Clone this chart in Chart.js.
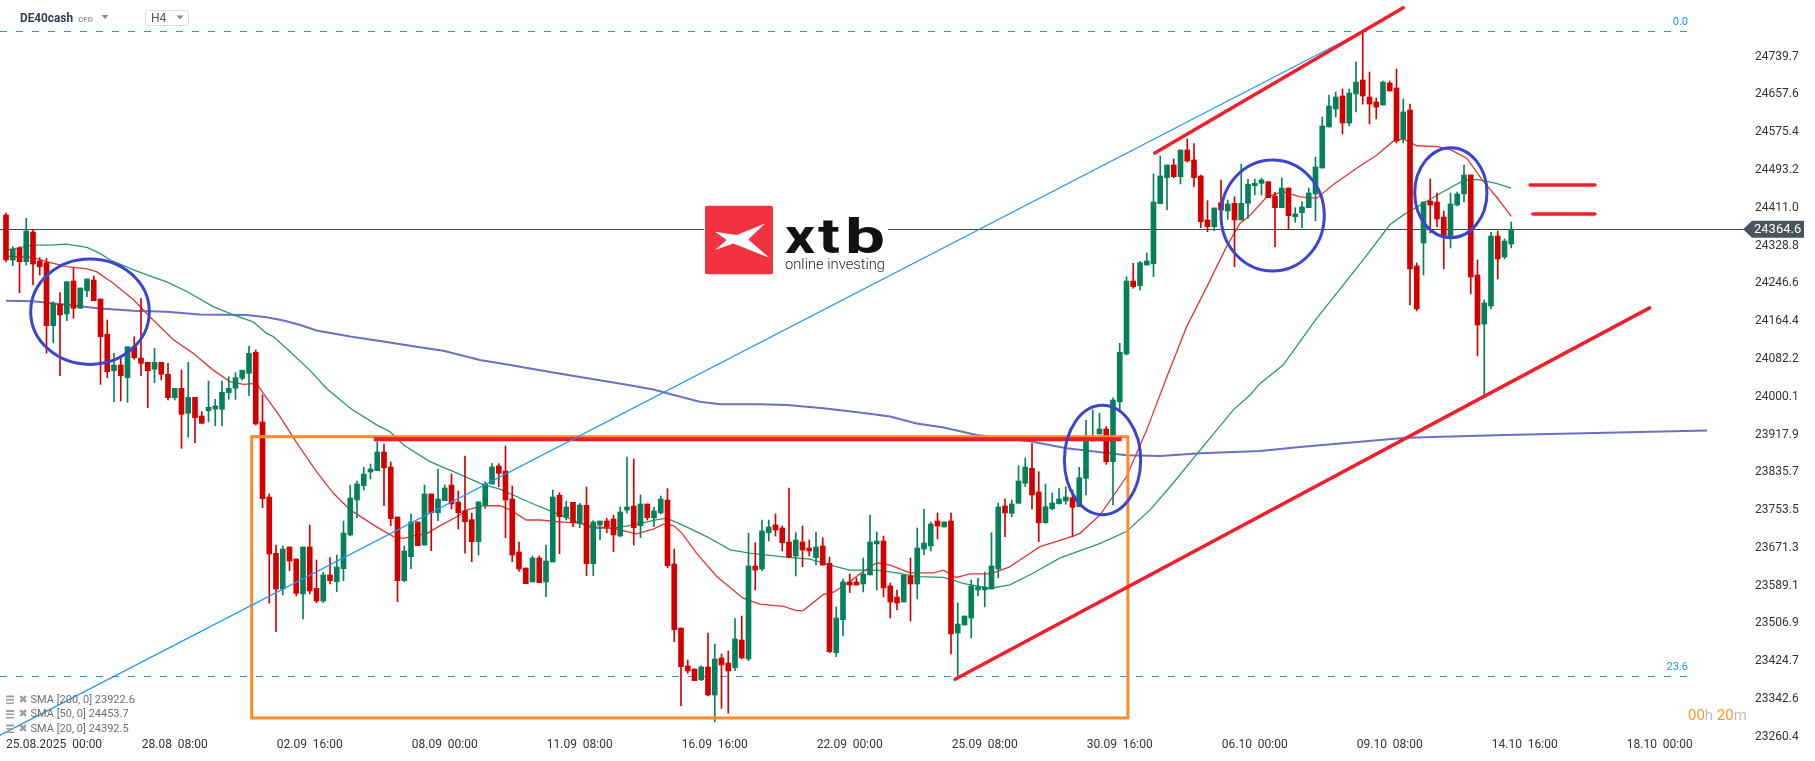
<!DOCTYPE html>
<html><head><meta charset="utf-8">
<script src="https://cdn.jsdelivr.net/npm/chart.js@4.4.1/dist/chart.umd.min.js"></script>
<style>html,body{margin:0;padding:0;background:#fff;overflow:hidden}#wrap{position:relative;width:1815px;height:761px}</style>
</head><body><div id="wrap"><canvas id="c" width="1815" height="761"></canvas></div>
<script>
// ---------- DATA (H4 candles, DE40cash) ----------
const openP = [24395.4,24297.5,24323.0,24293.8,24358.4,24295.3,24291.6,24154.6,24201.2,24180.1,24251.8,24192.5,24230.7,24254.0,24212.7,24135.9,24056.7,24069.1,24041.5,24108.9,24084.4,24075.0,24059.8,24075.0,24048.9,23998.0,24018.4,23964.1,23998.9,23958.2,23969.7,23973.4,23972.8,24008.9,24018.4,24040.2,24051.1,24096.8,23945.2,23782.0,23659.6,23581.9,23673.3,23647.2,23571.1,23673.3,23583.4,23555.8,23612.4,23597.8,23626.1,23699.4,23775.5,23806.6,23836.4,23839.2,23879.9,23847.3,23738.5,23600.0,23652.2,23727.7,23677.6,23788.6,23747.9,23774.0,23808.1,23771.2,23752.2,23732.7,23684.8,23764.6,23810.3,23849.5,23838.6,23777.7,23662.4,23627.6,23597.2,23649.4,23597.2,23640.7,23785.7,23737.9,23770.5,23724.8,23764.0,23637.0,23721.1,23729.8,23734.2,23697.2,23753.8,23762.5,23719.6,23766.8,23736.4,23747.3,23775.5,23636.3,23497.1,23414.5,23407.9,23384.7,23412.3,23351.4,23431.9,23420.9,23410.8,23471.0,23429.7,23631.9,23625.4,23704.4,23721.1,23714.6,23684.2,23653.7,23684.2,23671.1,23650.0,23675.5,23637.8,23443.4,23515.2,23597.2,23597.2,23592.8,23612.4,23679.8,23686.3,23588.5,23564.5,23553.7,23610.2,23592.8,23668.9,23675.5,23729.8,23716.8,23729.8,23486.2,23503.6,23518.9,23579.8,23579.8,23581.9,23625.4,23762.5,23746.6,23768.3,23811.8,23844.4,23792.9,23726.1,23756.6,23767.5,23773.3,23780.5,23760.9,23822.7,23903.8,23919.0,23929.9,23858.8,23989.3,24093.1,24251.8,24241.6,24286.6,24289.5,24419.9,24476.5,24504.1,24478.7,24536.8,24515.0,24480.2,24384.5,24369.9,24422.1,24404.1,24420.8,24384.5,24420.8,24459.1,24464.3,24467.8,24436.7,24411.3,24454.1,24391.7,24400.4,24411.3,24441.1,24497.6,24586.8,24625.9,24654.2,24595.5,24658.6,24689.0,24652.0,24641.2,24634.6,24682.5,24671.6,24560.7,24623.8,24284.5,24334.5,24425.8,24423.7,24391.0,24349.7,24417.1,24441.1,24482.4,24264.9,24158.3,24197.5,24349.7,24304.0,24332.3];
const highP = [24399.7,24326.4,24326.4,24388.2,24364.3,24302.5,24301.2,24206.8,24226.4,24250.3,24279.4,24236.6,24256.2,24262.7,24212.7,24167.0,24094.6,24087.2,24108.9,24130.7,24214.2,24075.0,24105.4,24075.0,24072.8,24018.4,24058.3,24075.0,23998.9,23967.6,24034.3,23994.5,24034.3,24043.7,24052.4,24057.6,24110.5,24101.8,24003.9,23788.6,23677.6,23675.5,23673.3,23647.2,23673.3,23721.1,23645.0,23618.3,23650.0,23655.9,23729.8,23808.1,23816.8,23846.6,23853.8,23902.3,23897.3,23858.2,23738.5,23675.5,23745.1,23727.7,23808.1,23788.6,23842.9,23808.1,23832.0,23795.1,23871.2,23747.2,23771.8,23815.3,23854.5,23854.5,23893.0,23806.0,23684.2,23627.6,23653.7,23653.7,23677.6,23797.3,23791.4,23773.3,23770.5,23768.3,23803.8,23730.5,23729.8,23735.7,23742.9,23760.3,23869.0,23864.7,23786.4,23766.8,23760.3,23784.2,23800.1,23668.9,23497.1,23427.5,23407.9,23414.5,23486.2,23462.3,23440.6,23447.1,23517.3,23523.2,23703.7,23682.6,23732.0,23732.0,23745.1,23719.0,23801.6,23704.4,23719.0,23688.5,23705.9,23693.5,23651.5,23542.8,23603.7,23614.6,23605.9,23649.4,23742.9,23705.9,23697.2,23595.0,23579.8,23612.4,23649.4,23714.6,23755.9,23727.7,23747.2,23727.7,23747.2,23551.5,23523.2,23601.5,23605.9,23618.9,23704.4,23768.9,23777.7,23775.5,23850.1,23866.8,23898.0,23837.0,23810.3,23790.7,23800.1,23804.4,23797.3,23846.6,23948.9,23971.3,23964.1,23934.9,23997.6,24116.3,24261.2,24290.3,24293.8,24312.7,24484.5,24523.7,24504.1,24517.2,24536.8,24560.7,24550.5,24482.4,24426.5,24410.6,24471.5,24428.0,24435.2,24505.6,24473.0,24473.7,24475.2,24467.8,24444.7,24475.9,24454.1,24411.3,24424.3,24454.1,24521.5,24608.5,24656.4,24662.9,24669.4,24669.4,24728.2,24794.1,24706.4,24649.9,24686.8,24686.8,24712.9,24647.7,24636.8,24291.0,24423.7,24473.7,24443.2,24404.1,24443.2,24445.4,24504.1,24482.4,24297.5,24210.5,24358.4,24360.6,24343.2,24380.2];
const lowP = [24293.2,24285.1,24226.4,24286.6,24243.1,24264.9,24094.6,24117.6,24045.9,24165.5,24170.7,24192.5,24217.7,24209.0,24027.1,24041.5,23989.3,23990.8,23988.0,24081.5,24045.9,23976.3,24030.6,24036.5,23993.0,23993.0,23888.0,23911.9,23900.1,23942.3,23945.8,23937.1,23937.1,23994.5,23994.5,24036.5,24002.4,23938.6,23758.7,23550.8,23489.1,23568.9,23621.7,23566.7,23516.7,23571.1,23552.1,23552.1,23592.8,23576.1,23600.0,23697.2,23737.0,23797.3,23821.2,23839.2,23763.1,23719.6,23554.3,23597.8,23626.1,23676.1,23677.6,23665.2,23730.5,23774.0,23755.9,23712.4,23659.6,23641.3,23655.9,23756.6,23810.3,23804.4,23693.5,23641.3,23620.4,23593.5,23597.2,23595.6,23565.2,23640.7,23658.7,23732.0,23717.4,23715.3,23610.9,23610.9,23688.5,23704.4,23663.1,23695.7,23746.6,23677.6,23693.5,23732.0,23717.4,23745.1,23628.3,23467.3,23328.1,23398.6,23382.5,23382.5,23349.2,23293.3,23322.4,23311.6,23404.2,23429.7,23426.0,23579.8,23621.7,23686.3,23697.2,23664.6,23649.4,23610.2,23630.4,23653.7,23634.1,23634.1,23443.4,23434.7,23479.7,23573.9,23590.6,23575.4,23612.4,23579.8,23564.5,23518.9,23536.3,23553.7,23512.3,23560.2,23655.9,23664.6,23690.7,23716.8,23440.6,23389.0,23503.6,23475.4,23566.7,23542.8,23581.9,23605.9,23695.7,23739.2,23768.3,23804.4,23755.3,23684.8,23724.8,23753.8,23766.2,23766.2,23695.7,23760.9,23786.4,23903.8,23919.0,23853.1,23764.6,23971.3,24090.9,24235.9,24232.3,24286.6,24261.2,24419.9,24406.3,24476.5,24462.8,24510.7,24456.9,24367.7,24359.1,24361.2,24386.0,24386.0,24282.9,24384.5,24388.2,24438.9,24438.9,24433.0,24326.4,24411.3,24364.3,24379.5,24367.7,24411.3,24383.0,24497.6,24586.8,24608.5,24571.6,24589.0,24619.4,24636.2,24593.3,24604.2,24634.6,24665.1,24552.0,24552.0,24199.6,24186.6,24264.9,24356.2,24369.3,24277.9,24323.6,24414.9,24423.7,24223.6,24088.7,24001.7,24190.9,24256.2,24299.7,24323.6];
const closeP = [24297.5,24320.8,24293.8,24360.6,24288.8,24282.9,24154.6,24202.5,24177.9,24250.3,24192.5,24236.6,24256.2,24209.0,24130.7,24054.6,24069.1,24045.9,24108.9,24085.0,24072.8,24056.7,24075.0,24048.9,23998.0,24018.4,23961.9,23998.9,23954.5,23942.3,23977.1,23980.0,24009.7,24018.4,24041.5,24057.6,24094.6,23940.8,23778.3,23658.1,23581.9,23668.9,23642.8,23572.6,23673.3,23577.6,23555.8,23612.4,23600.0,23629.8,23703.7,23779.9,23810.3,23832.0,23842.9,23879.9,23845.7,23734.9,23600.0,23664.6,23727.7,23676.1,23788.6,23747.9,23777.7,23801.6,23766.8,23747.9,23728.3,23684.8,23771.2,23810.3,23847.3,23833.6,23775.5,23655.9,23625.4,23593.5,23649.4,23595.6,23642.8,23782.0,23739.2,23760.3,23726.1,23764.6,23637.0,23727.7,23729.8,23717.4,23699.4,23749.4,23760.3,23715.3,23766.8,23737.0,23751.6,23777.7,23632.6,23493.4,23412.9,23403.6,23382.5,23412.3,23351.4,23429.7,23416.6,23403.6,23473.2,23431.9,23631.9,23623.3,23708.1,23716.8,23710.3,23682.6,23651.5,23688.5,23666.8,23664.6,23673.3,23634.1,23445.5,23518.9,23597.2,23590.6,23590.6,23614.6,23684.2,23686.3,23584.1,23553.7,23551.5,23612.4,23592.8,23671.1,23681.9,23723.3,23718.9,23727.7,23484.1,23505.8,23523.2,23588.5,23586.3,23586.3,23631.9,23760.3,23747.3,23766.8,23816.8,23847.3,23786.4,23726.1,23760.9,23769.0,23777.7,23782.0,23759.6,23824.0,23913.2,23912.5,23929.9,23858.8,23993.0,24096.8,24251.8,24239.4,24291.6,24295.3,24423.7,24480.2,24504.1,24478.7,24536.8,24512.8,24476.5,24380.8,24369.9,24410.6,24406.3,24419.3,24384.5,24420.8,24462.1,24464.3,24471.5,24433.0,24411.3,24454.1,24393.9,24397.6,24412.8,24443.2,24499.8,24589.0,24632.4,24652.0,24595.5,24660.7,24684.6,24654.2,24636.8,24630.3,24684.6,24665.1,24556.3,24619.4,24277.9,24190.9,24423.7,24417.1,24386.7,24349.7,24419.3,24441.1,24482.4,24260.5,24156.1,24204.0,24349.7,24299.7,24338.8,24364.6];

// moving averages: [bar index, value]
const sma20 = [[0,24306],[4,24303],[6,24294],[9,24283],[12,24278],[13.4,24272],[15.9,24247],[18.9,24211],[21.3,24174],[24.8,24124],[27.7,24095],[30.7,24058],[33.2,24033],[35.2,24027],[37.1,24029],[38.1,24008],[40.6,23957],[43.1,23899],[46,23837],[48.5,23790],[51,23754],[54.9,23717],[57.4,23696],[58.9,23692],[60.8,23699],[62.3,23702],[64,23717],[66.8,23739],[68.3,23754],[70.7,23763],[73.2,23763],[74.7,23754],[77.1,23732],[79.1,23732],[82.1,23728],[85,23725],[87,23717],[90,23714],[93.4,23702],[95.9,23712],[97.4,23723],[98.9,23720],[100.1,23704],[102.3,23660],[105.3,23609],[109.2,23562],[111.7,23549],[115.2,23544],[117.1,23535],[118.1,23535],[121.1,23570],[122.6,23575],[125,23598],[127,23620],[129,23639],[131,23634],[133.9,23617],[137.4,23617],[138.9,23623],[140.8,23607],[142.8,23615],[145.8,23615],[148.7,23630],[150.2,23645],[153.2,23674],[158.1,23697],[159.1,23703],[162.1,23743],[166,23826],[169,23928],[172,24044],[174.9,24152],[177.9,24239],[180.8,24326],[182.8,24377],[184.3,24395],[186.8,24435],[189.2,24446],[191.7,24435],[194.2,24432],[196.6,24461],[200.1,24497],[203.1,24526],[205.5,24556],[207,24561],[209,24546],[212,24544],[213.9,24538],[216.4,24519],[218.9,24468],[220.8,24435],[223,24392.5]];
const sma50 = [[0,24319],[4,24330],[6.5,24330],[9,24332],[12,24325],[13.9,24312],[15.4,24298],[18.9,24276],[21.3,24263],[23.8,24250],[26.8,24229],[30.7,24196],[33.7,24178],[36.6,24163],[38.6,24138],[39.6,24131],[42.1,24098],[45,24058],[47.5,24018],[51,23975],[54.9,23939],[56.9,23924],[58.9,23895],[62.8,23859],[66.3,23837],[70.7,23809],[73.2,23799],[77.6,23770],[80.6,23752],[84,23732],[87,23714],[90,23715],[92.9,23721],[95.9,23731],[97.9,23736],[100.8,23717],[103.8,23696],[107.3,23667],[110.2,23660],[115.2,23652],[119.1,23647],[122.1,23634],[125,23623],[129,23623],[132,23617],[134.9,23609],[138.9,23607],[141.8,23594],[145.8,23583],[148.7,23591],[152,23615],[156.1,23649],[162.1,23681],[166,23707],[169.5,23754],[172.9,23812],[176.9,23884],[181.8,23971],[184.3,24004],[185.8,24029],[189.2,24069],[194.2,24171],[198.1,24243],[201.6,24308],[205,24374],[207,24395],[210,24421],[212.9,24446],[215.9,24470],[217.9,24473],[220.8,24464],[223,24453.7]];
const sma200 = [[0,24209],[4,24208],[9,24200],[13.9,24192],[18.9,24187],[23.8,24185],[28.7,24179],[35.7,24178],[38.6,24173],[41.1,24166],[43.6,24156],[46,24144],[51,24131],[55.9,24120],[60.8,24109],[64.8,24100],[70.2,24080],[74.7,24069],[80.6,24054],[87.5,24037],[92,24026],[95.9,24016],[99.9,24000],[102.8,23989],[105.8,23984],[111.7,23984],[115.7,23982],[121.1,23975],[126.5,23966],[131,23957],[134.9,23942],[138.9,23933],[143.8,23917],[152.1,23902],[157.1,23888],[166,23873],[171,23871],[176.9,23877],[185.8,23882],[191.7,23891],[207.4,23911],[222,23917],[252,23926.5]];
const smaLegend = [['SMA [200, 0]', 23922.6], ['SMA [50, 0]', 24453.7], ['SMA [20, 0]', 24392.5]];

const yTicks = [24739.7,24657.6,24575.4,24493.2,24411.0,24328.8,24246.6,24164.4,24082.2,24000.1,23917.9,23835.7,23753.5,23671.3,23589.1,23506.9,23424.7,23342.6,23260.4];
const xTickIdx = [5,25,45,65,85,105,125,145,165,185,205,225,245];
const xTickLabels = ['25.08.2025  00:00','28.08  08:00','02.09  16:00','08.09  00:00','11.09  08:00','16.09  16:00','22.09  00:00','25.09  08:00','30.09  16:00','06.10  00:00','09.10  08:00','14.10  16:00','18.10  00:00'];

// drawing annotations (bar index, price)
const fibLevels = [['0.0',24795.6],['23.6',23392.7]];
const fibLine = [[-1,23263],[201,24795]];
const rangeBox = [[36.4,23913.2],[166.2,23301.4]];
const resistance = [[54.5,23907.5],[165.3,23907.5]];
const upperTrend = [[170.2,24530],[207,24846]];
const lowerTrend = [[140.6,23385.5],[243.5,24193.3]];
const ellipses = [[3.66,21.23,24299.7,24070.4],[156.8,168.1,23981.5,23743.6],[180.0,195.3,24515,24273.6],[208.7,219.4,24541.8,24346]];
const equalSign = [[225.8,235.4,24460.6],[226.2,235.4,24397.5]];
const lastPrice = closeP[closeP.length-1];

// ---------- CHART ----------
Chart.defaults.font.family = 'Roboto';
const GREEN = '#06805a', RED = '#d40000';
const idx = openP.map((_, i) => i);
const cols = idx.map(i => closeP[i] >= openP[i] ? GREEN : RED);
const bodies = idx.map(i => ({x: i, y: [openP[i], closeP[i]]}));
const wicks = idx.map(i => ({x: i, y: [lowP[i], highP[i]]}));
const toXY = a => a.map(p => ({x: p[0], y: p[1]}));

function line(ctx, x1, y1, x2, y2){ctx.beginPath();ctx.moveTo(x1,y1);ctx.lineTo(x2,y2);ctx.stroke();}
function fitText(ctx, t, x, y, w){ const m = ctx.measureText(t).width; ctx.save(); ctx.translate(x, y); ctx.scale(w / m, 1); ctx.fillText(t, 0, 0); ctx.restore(); }

const drawPlugin = {
  id: 'draw',
  beforeDatasetsDraw(chart){
    const ctx = chart.ctx, ys = chart.scales.y, ca = chart.chartArea;
    ctx.save();
    ctx.strokeStyle = '#2196f3'; ctx.lineWidth = 1; ctx.setLineDash([7,9]);
    fibLevels.forEach(f => { const y = Math.round(ys.getPixelForValue(f[1])) + 0.5; line(ctx, 0, y, 1690, y); });
    ctx.setLineDash([]);
    const py = Math.round(ys.getPixelForValue(lastPrice)) + 0.5;
    ctx.strokeStyle = '#3b4750'; ctx.lineWidth = 1; line(ctx, 0, py, ca.right, py);
    // logo
    ctx.fillStyle = '#fff'; ctx.fillRect(704, 204, 184, 72);
    ctx.fillStyle = '#f0333f';
    ctx.beginPath(); ctx.roundRect(705, 205.7, 68, 68.6, 2); ctx.fill();
    const P = [[10,26],[31.7,29.3],[60,17.7],[43.3,33.7],[64.3,52],[28.3,37.7],[10,44.3],[21.7,34.3]];
    ctx.fillStyle = '#fff'; ctx.beginPath();
    P.forEach((p, k) => { const X = 705 + p[0], Y = 205.7 + p[1]; k ? ctx.lineTo(X, Y) : ctx.moveTo(X, Y); });
    ctx.closePath(); ctx.fill();
    ctx.fillStyle = '#111'; ctx.font = 'bold 48px Roboto'; ctx.textBaseline = 'alphabetic'; ctx.textAlign = 'left';
    [['x',785,30],['t',818,22],['b',845,40]].forEach(l => fitText(ctx, l[0], l[1], 253, l[2]));
    ctx.font = '300 15px Roboto'; ctx.fillStyle = '#222';
    fitText(ctx, 'online investing', 785, 269, 100);
    ctx.restore();
  },
  afterDatasetsDraw(chart){
    const ctx = chart.ctx, xs = chart.scales.x, ys = chart.scales.y, ca = chart.chartArea;
    const X = v => xs.getPixelForValue(v), Y = v => ys.getPixelForValue(v);
    ctx.save();
    ctx.beginPath(); ctx.rect(ca.left, ca.top, ca.right - ca.left, ca.bottom - ca.top); ctx.clip();
    ctx.strokeStyle = '#ff8a2b'; ctx.lineWidth = 3;
    ctx.strokeRect(X(rangeBox[0][0]), Y(rangeBox[0][1]), X(rangeBox[1][0]) - X(rangeBox[0][0]), Y(rangeBox[1][1]) - Y(rangeBox[0][1]));
    ctx.strokeStyle = '#ee1c25'; ctx.lineWidth = 4;
    line(ctx, X(resistance[0][0]), Y(resistance[0][1]), X(resistance[1][0]), Y(resistance[1][1]));
    ctx.strokeStyle = '#2196f3'; ctx.lineWidth = 1.2;
    line(ctx, X(fibLine[0][0]), Y(fibLine[0][1]), X(fibLine[1][0]), Y(fibLine[1][1]));
    ctx.strokeStyle = '#f01f2b'; ctx.lineWidth = 3.5; ctx.lineCap = 'round';
    [upperTrend, lowerTrend].forEach(t => line(ctx, X(t[0][0]), Y(t[0][1]), X(t[1][0]), Y(t[1][1])));
    equalSign.forEach(e => line(ctx, X(e[0]), Y(e[2]), X(e[1]), Y(e[2])));
    ctx.lineCap = 'butt';
    ctx.strokeStyle = '#3c46cc'; ctx.lineWidth = 3;
    ellipses.forEach(e => {
      const x1 = X(e[0]), x2 = X(e[1]), y1 = Y(e[2]), y2 = Y(e[3]);
      ctx.beginPath(); ctx.ellipse((x1+x2)/2, (y1+y2)/2, (x2-x1)/2, (y2-y1)/2, 0, 0, Math.PI*2); ctx.stroke();
    });
    ctx.restore();

    ctx.save();
    ctx.fillStyle = '#2196f3'; ctx.font = '11px Roboto'; ctx.textAlign = 'right'; ctx.textBaseline = 'bottom';
    fibLevels.forEach(f => ctx.fillText(f[0], 1688, Y(f[1]) - 3));
    // price tag
    const py = Y(lastPrice);
    ctx.fillStyle = '#46555f'; ctx.beginPath();
    ctx.moveTo(1743, py); ctx.lineTo(1752, py - 8.5); ctx.lineTo(1804, py - 8.5); ctx.lineTo(1804, py + 8.5); ctx.lineTo(1752, py + 8.5); ctx.closePath(); ctx.fill();
    ctx.fillStyle = '#fff'; ctx.font = '13px Roboto'; ctx.textAlign = 'left'; ctx.textBaseline = 'middle';
    ctx.fillText(lastPrice.toFixed(1), 1754, py + 0.5);
    // header
    ctx.fillStyle = '#2f3e4e'; ctx.font = 'bold 13px Roboto'; fitText(ctx, 'DE40cash', 20, 18.5, 53);
    ctx.fillStyle = '#9a9a9a'; ctx.font = 'bold 8px Roboto'; ctx.fillText('CFD', 78, 19.5);
    const tri = (x, y) => { ctx.beginPath(); ctx.moveTo(x, y); ctx.lineTo(x + 7, y); ctx.lineTo(x + 3.5, y + 4); ctx.closePath(); ctx.fill(); };
    ctx.fillStyle = '#8a8a8a'; tri(101.5, 15); tri(176.5, 15.5);
    ctx.strokeStyle = '#dedede'; ctx.lineWidth = 1; ctx.beginPath(); ctx.roundRect(145.5, 10.5, 43, 15, 2); ctx.stroke();
    ctx.fillStyle = '#555'; ctx.font = '12px Roboto'; ctx.fillText('H4', 151, 19);
    // legend
    smaLegend.forEach((l, k) => {
      const y = 700 + k * 14.5;
      ctx.fillStyle = '#9e9e9e'; ctx.fillRect(6, y - 4.5, 8, 2); ctx.fillRect(6, y - 1, 8, 1.5); ctx.fillRect(6, y + 2.5, 8, 1.5);
      ctx.font = 'bold 11px DejaVu Sans'; ctx.fillText('\u2716', 18.5, y);
      ctx.fillStyle = '#6e6e6e'; ctx.font = '11px Roboto';
      ctx.fillText(l[0] + ' ' + l[1].toFixed(1), 30.5, y);
    });
    // countdown
    ctx.font = '15px Roboto'; let cx = 1688;
    [['00','#ff9a1f'],['h','#bdbdbd'],[' 20','#ff9a1f'],['m','#bdbdbd']].forEach(s => { ctx.fillStyle = s[1]; ctx.fillText(s[0], cx, 716); cx += ctx.measureText(s[0]).width; });
    // x axis labels, positioned by the x scale
    ctx.fillStyle = '#333'; ctx.font = '12px Roboto'; ctx.textBaseline = 'middle';
    xTickIdx.forEach((v, k) => {
      const w = ctx.measureText(xTickLabels[k]).width;
      ctx.fillText(xTickLabels[k], Math.max(6, X(v) - w / 2), 745);
    });
    ctx.restore();
  }
};

new Chart(document.getElementById('c'), {
  type: 'bar',
  data: { datasets: [
    { type: 'bar', data: bodies, backgroundColor: cols, barThickness: 5, minBarLength: 1, grouped: false, borderWidth: 0, order: 1 },
    { type: 'bar', data: wicks, backgroundColor: cols, barThickness: 1, grouped: false, borderWidth: 0, order: 2 },
    { type: 'line', data: toXY(sma20), borderColor: '#e23535', borderWidth: 1.3, pointRadius: 0, tension: 0, order: 3 },
    { type: 'line', data: toXY(sma50), borderColor: '#2a9868', borderWidth: 1.3, pointRadius: 0, tension: 0, order: 4 },
    { type: 'line', data: toXY(sma200), borderColor: '#6b70c2', borderWidth: 2, pointRadius: 0, tension: 0, order: 5 }
  ]},
  options: {
    responsive: false, animation: false, devicePixelRatio: 1, events: [],
    layout: { padding: 0 },
    plugins: { legend: { display: false }, tooltip: { enabled: false } },
    scales: {
      x: { type: 'linear', min: -0.889, max: 257.63, offset: false,
           grid: { display: false, drawTicks: false }, border: { display: false }, ticks: { display: false },
           afterFit(s) { s.height = 24; s.paddingLeft = 0; s.paddingRight = 0; } },
      y: { type: 'linear', position: 'right', min: 23260.0, max: 24863.0,
           grid: { display: false, drawTicks: false }, border: { display: false },
           ticks: { color: '#333', font: { size: 12 }, padding: 10, callback: v => v.toFixed(1) },
           afterBuildTicks(s) { s.ticks = yTicks.slice().sort((a, b) => a - b).map(v => ({ value: v })); },
           afterFit(s) { s.width = 70; s.paddingTop = 0; s.paddingBottom = 0; } }
    }
  },
  plugins: [drawPlugin]
});
</script></body></html>
